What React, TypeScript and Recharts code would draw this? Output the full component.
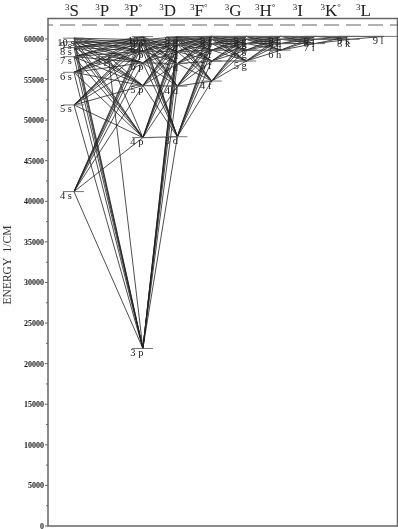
import { ComposedChart, Line, ReferenceArea, ReferenceLine, Scatter, XAxis, YAxis } from 'recharts'

// term columns, left to right, with their header position (in column units)
const termLetters = ['S', 'P', 'P', 'D', 'F', 'G', 'H', 'I', 'K', 'L']
const termOdd = [false, false, true, false, true, false, true, false, true, false]
const headerPositions = [-0.06, 0.82, 1.72, 2.72, 3.62, 4.62, 5.55, 6.5, 7.45, 8.4]

const energyTicks = [
  0, 2500, 5000, 7500, 10000, 12500, 15000, 17500, 20000, 22500, 25000, 27500, 30000, 32500, 35000, 37500, 40000,
  42500, 45000, 47500, 50000, 52500, 55000, 57500, 60000,
]
const energyMax = 62520
const ionizationLimit = 61720

// [key, printed label, column, energy]
type Level = [string, string, number, number]
const sLevels: Level[] = [
  ['4s', '4 s', 0, 41197],
  ['5s', '5 s', 0, 51872],
  ['6s', '6 s', 0, 55891],
  ['7s', '7 s', 0, 57812],
  ['8s', '8 s', 0, 58950],
  ['9s', '9 s', 0, 59640],
  ['10s', '10 s', 0, 60097],
]
const pEvenLevels: Level[] = [['3P', '3 p', 1, 57833]]
const pLevels: Level[] = [
  ['3p', '3 p', 2, 21870],
  ['4p', '4 p', 2, 47848],
  ['5p', '5 p', 2, 54252],
  ['6p', '6 p', 2, 57060],
  ['7p', '7 p', 2, 58519],
  ['8p', '8 p', 2, 59366],
  ['9p', '9 p', 2, 59913],
  ['10p', '10 p', 2, 60286],
]
const dLevels: Level[] = [
  ['3d', '3 d', 3, 47957],
  ['4d', '4 d', 3, 54192],
  ['5d', '5 d', 3, 56968],
  ['6d', '6 d', 3, 58442],
  ['7d', '7 d', 3, 59319],
  ['8d', '8 d', 3, 59881],
  ['9d', '9 d', 3, 60264],
]
const fLevels: Level[] = [
  ['4f', '4 f', 4, 54813],
  ['5f', '5 f', 4, 57281],
  ['6f', '6 f', 4, 58623],
  ['7f', '7 f', 4, 59431],
  ['8f', '8 f', 4, 59956],
  ['9f', '9 f', 4, 60316],
]
const gLevels: Level[] = [
  ['5g', '5 g', 5, 57281],
  ['6g', '6 g', 5, 58623],
  ['7g', '7 g', 5, 59431],
  ['8g', '8 g', 5, 59956],
  ['9g', '9 g', 5, 60316],
]
const hLevels: Level[] = [
  ['6h', '6 h', 6, 58623],
  ['7h', '7 h', 6, 59431],
  ['8h', '8 h', 6, 59956],
  ['9h', '9 h', 6, 60316],
]
const iLevels: Level[] = [
  ['7i', '7 i', 7, 59431],
  ['8i', '8 i', 7, 59956],
  ['9i', '9 i', 7, 60316],
]
const kLevels: Level[] = [
  ['8k', '8 k', 8, 59956],
  ['9k', '9 k', 8, 60316],
]
const lLevels: Level[] = [['9l', '9 l', 9, 60316]]

const allS = ['4s', '5s', '6s', '7s', '8s', '9s', '10s']
const allD = ['3d', '4d', '5d', '6d', '7d', '8d', '9d']
const allF = ['4f', '5f', '6f', '7f', '8f', '9f']
const allG = ['5g', '6g', '7g', '8g', '9g']
const allH = ['6h', '7h', '8h', '9h']
const allI = ['7i', '8i', '9i']
const allK = ['8k', '9k']

// each row: one level and the levels it is joined to
const transitions: [string, string[]][] = [
  ['3p', [...allS, '3P', ...allD]],
  ['4p', [...allS, '3P', ...allD]],
  ['5p', [...allS, '3P', ...allD]],
  ['6p', [...allS, '3P', ...allD]],
  ['7p', [...allS, '3P', ...allD]],
  ['8p', [...allS, ...allD]],
  ['9p', [...allS, ...allD]],
  ['10p', ['4s', '5s', '6s', '7s', '8s', '3d', '4d', '5d', '6d']],
  ['3d', allF],
  ['4d', allF],
  ['5d', allF],
  ['6d', allF],
  ['7d', allF],
  ['8d', allF],
  ['9d', allF],
  ['4f', allG],
  ['5f', allG],
  ['6f', allG],
  ['7f', allG],
  ['8f', allG],
  ['9f', allG],
  ['5g', allH],
  ['6g', allH],
  ['7g', allH],
  ['8g', allH],
  ['9g', allH],
  ['6h', allI],
  ['7h', allI],
  ['8h', allI],
  ['9h', allI],
  ['7i', allK],
  ['8i', allK],
  ['9i', allK],
  ['8k', ['9l']],
  ['9k', ['9l']],
]

const levels = [
  ...sLevels,
  ...pEvenLevels,
  ...pLevels,
  ...dLevels,
  ...fLevels,
  ...gLevels,
  ...hLevels,
  ...iLevels,
  ...kLevels,
  ...lLevels,
]
const levelByKey = new Map(levels.map((l) => [l[0], l]))
const xDomain: [number, number] = [-0.754, 9.39]
const ink = '#222'
const axisInk = '#666'
const serif = '"Liberation Serif", serif'

const segments = transitions.flatMap(([from, tos]) =>
  tos.map((to) => {
    const a = levelByKey.get(from) as Level
    const b = levelByKey.get(to) as Level
    return { id: `${from}-${to}`, data: [{ x: a[2], y: a[3] }, { x: b[2], y: b[3] }] }
  })
)
const labelPoints = levels.map((l) => ({ x: l[2], y: l[3], label: l[1], column: l[2] }))
const headerPoints = headerPositions.map((x, i) => ({ x, y: energyMax, index: i }))

function EnergyTick({ x, y, payload }: any) {
  const major = payload.value % 5000 === 0
  return (
    <g>
      <line x1={x} x2={x - (major ? 3 : 2)} y1={y} y2={y} stroke={axisInk} />
      {major && (
        <text x={x - 4} y={y + 3} textAnchor="end" fontFamily={serif} fontSize={8} fontWeight="bold" fill="#1a1a1a">
          {payload.value}
        </text>
      )}
    </g>
  )
}

function HeaderMark({ cx, cy, payload }: any) {
  return (
    <text x={cx} y={cy - 3} textAnchor="middle" fontFamily={serif} fill="#222">
      <tspan fontSize={9} dy={-6}>3</tspan>
      <tspan fontSize={17} dy={6}>{termLetters[payload.index]}</tspan>
      {termOdd[payload.index] && <tspan fontSize={9} dy={-6}>°</tspan>}
    </text>
  )
}

function LevelLabel({ cx, cy, payload }: any) {
  const dx = payload.column === 0 ? -8 : -6
  return (
    <text x={cx + dx} y={cy + 7.5} textAnchor="middle" fontFamily={serif} fontSize={10.5} fill="#222">
      {payload.label}
    </text>
  )
}

function EnergyTitle() {
  return (
    <text
      transform="rotate(-90 11 265)"
      x={11}
      y={265}
      textAnchor="middle"
      fontFamily={serif}
      fontSize={11.5}
      fill="#333"
      style={{ whiteSpace: 'pre' }}
    >
      ENERGY  1/CM
    </text>
  )
}

export default function App() {
  return (
    <div style={{ position: 'absolute', left: 0, top: 0, filter: 'grayscale(1)' }}>
      <ComposedChart width={398} height={529} margin={{ top: 18.5, right: 0.5, bottom: 3, left: 0 }}>
        <XAxis dataKey="x" type="number" domain={xDomain} hide />
        <YAxis
          dataKey="y"
          type="number"
          domain={[0, energyMax]}
          ticks={energyTicks}
          interval={0}
          width={48}
          axisLine={false}
          tickLine={false}
          tickSize={0}
          tickMargin={0}
          tick={<EnergyTick />}
          label={{ content: () => <EnergyTitle /> }}
        />
        <ReferenceArea
          x1={xDomain[0]}
          x2={xDomain[1]}
          y1={0}
          y2={energyMax}
          fill="none"
          stroke={axisInk}
          strokeWidth={1.5}
        />
        <ReferenceLine
          y={ionizationLimit}
          stroke={axisInk}
          strokeDasharray="15 7"
          strokeDashoffset={10}
          strokeWidth={1.2}
        />
        {segments.map((s) => (
          <Line
            key={s.id}
            data={s.data}
            dataKey="y"
            stroke={ink}
            strokeWidth={0.8}
            dot={false}
            activeDot={false}
            legendType="none"
            isAnimationActive={false}
          />
        ))}
        {levels.map((l) => (
          <Line
            key={`lvl-${l[0]}`}
            data={[
              { x: l[2] - 0.32, y: l[3] },
              { x: l[2] + (l[0] === '9l' ? 0.38 : 0.29), y: l[3] },
            ]}
            dataKey="y"
            stroke={axisInk}
            strokeWidth={0.9}
            dot={false}
            activeDot={false}
            legendType="none"
            isAnimationActive={false}
          />
        ))}
        <Scatter data={labelPoints} dataKey="y" shape={<LevelLabel />} isAnimationActive={false} />
        <Scatter data={headerPoints} dataKey="y" shape={<HeaderMark />} isAnimationActive={false} />
      </ComposedChart>
    </div>
  )
}
